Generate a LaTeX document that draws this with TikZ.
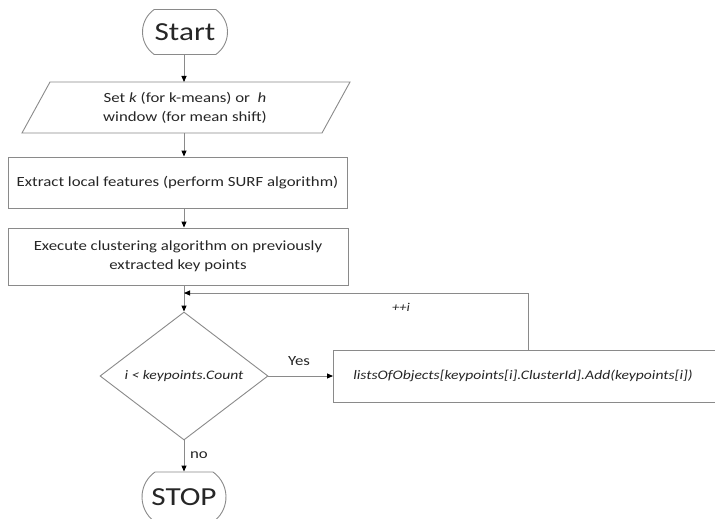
\documentclass[tikz,border=0pt]{standalone}
\usepackage{fontspec}
\setmainfont{Carlito}[FakeStretch=1.2]
\usetikzlibrary{arrows.meta,shapes.misc,shapes.geometric}
\definecolor{ln}{HTML}{8A8A8A}
\definecolor{tx}{HTML}{262626}
\begin{document}
\begin{tikzpicture}[x=1pt,y=-1pt,
  line/.style={draw=ln, line width=0.9pt},
  arr/.style={line, -{Triangle[length=6pt,width=5pt,color=black]}},
  term/.style={rounded rectangle, rounded rectangle arc length=110, draw=ln, line width=0.9pt, text=tx, font=\fontsize{26}{30}\selectfont, inner sep=0pt},
  box/.style={rectangle, draw=ln, line width=0.9pt, text=tx, font=\fontsize{14}{19}\selectfont, align=center, inner sep=0pt},
  lbl/.style={text=tx, font=\fontsize{14}{16}\selectfont, inner sep=0pt}]
\useasboundingbox (0,0) rectangle (715,519);
\fill[white] (0,0) rectangle (715,519);
\node[term, minimum width=85pt, minimum height=45pt] (start) at (185,32) {Start};
% parallelogram
\draw[line] (50,82) -- (350,82) -- (322,133) -- (22,133) -- cycle;
\node[box, draw=none, minimum width=300pt, minimum height=51pt] (par) at (185,107.5) {Set \textit{k} (for k-means) or \ \textit{h}\\window (for mean shift)};
\node[box, minimum width=339pt, minimum height=51pt] (ext) at (177.5,182.5) {Extract local features (perform SURF algorithm)};
\node[box, minimum width=340pt, minimum height=57pt] (exe) at (178,256.5) {Execute clustering algorithm on previously\\extracted key points};
\node[diamond, draw=ln, line width=0.9pt, minimum width=168pt, minimum height=128pt, inner sep=0pt, text=tx, font=\fontsize{13}{16}\selectfont\itshape, aspect=1.3] (dia) at (184,376) {i < keypoints.Count};
\node[box, minimum width=427pt, minimum height=52pt, font=\fontsize{13}{16}\selectfont\itshape, anchor=west] (rb) at (333,376) {\hspace*{-48pt}listsOfObjects[keypoints[i].ClusterId].Add(keypoints[i])};
\node[term, minimum width=84pt, minimum height=50pt] (stop) at (184,497) {STOP};
\coordinate (lp) at (528,293);
\draw[arr] (start.south -| 184,0) -- (184,82);
\draw[arr] (184,133) -- (ext.north -| 184,0);
\draw[arr] (ext.south -| 184,0) -- (exe.north -| 184,0);
\draw[arr] (exe.south -| dia.north) -- (dia.north);
\draw[arr] (rb.north -| lp) -- (lp) -- (lp -| dia.north);
\draw[arr] (dia.east) -- (rb.west);
\draw[arr] (dia.south) -- (stop.north);
\node[lbl] (yes) at (299,361) {Yes};
\node[lbl, font=\fontsize{12}{16}\selectfont\itshape] (inc) at (401,307) {++i};
\node[lbl] (no) at (199,455) {no};
\end{tikzpicture}
\end{document}
